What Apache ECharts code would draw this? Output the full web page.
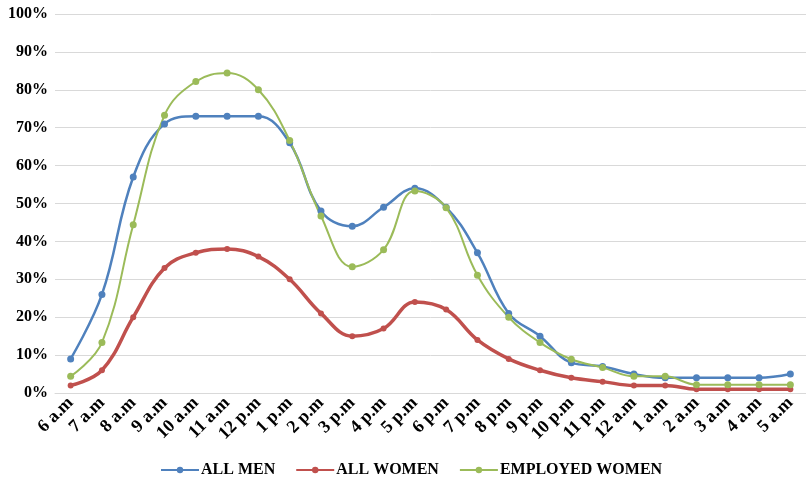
<!DOCTYPE html>
<html>
<head>
<meta charset="utf-8">
<script src="https://cdn.jsdelivr.net/npm/echarts@6/dist/echarts.min.js"></script>
<style>
html,body{margin:0;padding:0;background:#fff;}
#chart{width:806px;height:479px;}
</style>
</head>
<body>
<div id="chart"></div>
<script>
const categories = ["6 a.m","7 a.m","8 a.m","9 a.m","10 a.m","11 a.m","12 p.m","1 p.m","2 p.m","3 p.m","4 p.m","5 p.m","6 p.m","7 p.m","8 p.m","9 p.m","10 p.m","11 p.m","12 a.m","1 a.m","2 a.m","3 a.m","4 a.m","5 a.m"];
const allMen = [9,26,57,71,73,73,73,66,48,44,49,54,49,37,21,15,8,7,5,4,4,4,4,5];
const allWomen = [2,6,20,33,37,38,36,30,21,15,17,24,22,14,9,6,4,3,2,2,1,1,1,1];
const employedWomen = [4.4,13.3,44.4,73.3,82.2,84.4,80,66.6,46.7,33.3,37.8,53.3,48.9,31.1,20,13.3,8.9,6.7,4.4,4.4,2.2,2.2,2.2,2.2];
const yTicks = [0,10,20,30,40,50,60,70,80,90,100];

const font = '"Liberation Serif","Times New Roman",serif';
const chart = echarts.init(document.getElementById('chart'));
chart.setOption({
  animation: false,
  backgroundColor: '#fff',
  grid: {left: 55, right: -11, top: 14, bottom: 86, containLabel: false},
  xAxis: {
    type: 'category',
    data: categories,
    boundaryGap: true,
    axisLine: {show: true, lineStyle: {color: '#d9d9d9', width: 1}},
    axisTick: {show: false},
    axisLabel: {
      rotate: 45, interval: 0, margin: 7,
      fontFamily: font, fontWeight: 'bold', fontSize: 18, color: '#000'
    }
  },
  yAxis: {
    type: 'value',
    min: yTicks[0], max: yTicks[yTicks.length-1], interval: 10,
    axisLine: {show: false},
    axisTick: {show: false},
    splitLine: {lineStyle: {color: '#d9d9d9', width: 1}},
    axisLabel: {
      formatter: '{value}%', margin: 7,
      fontFamily: font, fontWeight: 'bold', fontSize: 16, color: '#000'
    }
  },
  legend: {
    bottom: -4, left: 155,
    itemWidth: 38, itemHeight: 8, itemGap: 20,
    textStyle: {fontFamily: font, fontWeight: 'bold', fontSize: 16, color: '#000', padding: [0,0,0,-3]},
    data: ['ALL MEN','ALL WOMEN','EMPLOYED WOMEN']
  },
  series: [
    {
      name: 'ALL MEN', type: 'line', data: allMen, smooth: 0.4,
      symbol: 'circle', symbolSize: 7,
      lineStyle: {color: '#4F81BD', width: 2.5},
      itemStyle: {color: '#4F81BD'}
    },
    {
      name: 'ALL WOMEN', type: 'line', data: allWomen, smooth: 0.4,
      symbol: 'circle', symbolSize: 6,
      lineStyle: {color: '#C0504D', width: 3.5},
      itemStyle: {color: '#C0504D'}
    },
    {
      name: 'EMPLOYED WOMEN', type: 'line', data: employedWomen, smooth: 0.4,
      symbol: 'circle', symbolSize: 7,
      lineStyle: {color: '#9BBB59', width: 2},
      itemStyle: {color: '#9BBB59'}
    }
  ]
});
</script>
</body>
</html>
